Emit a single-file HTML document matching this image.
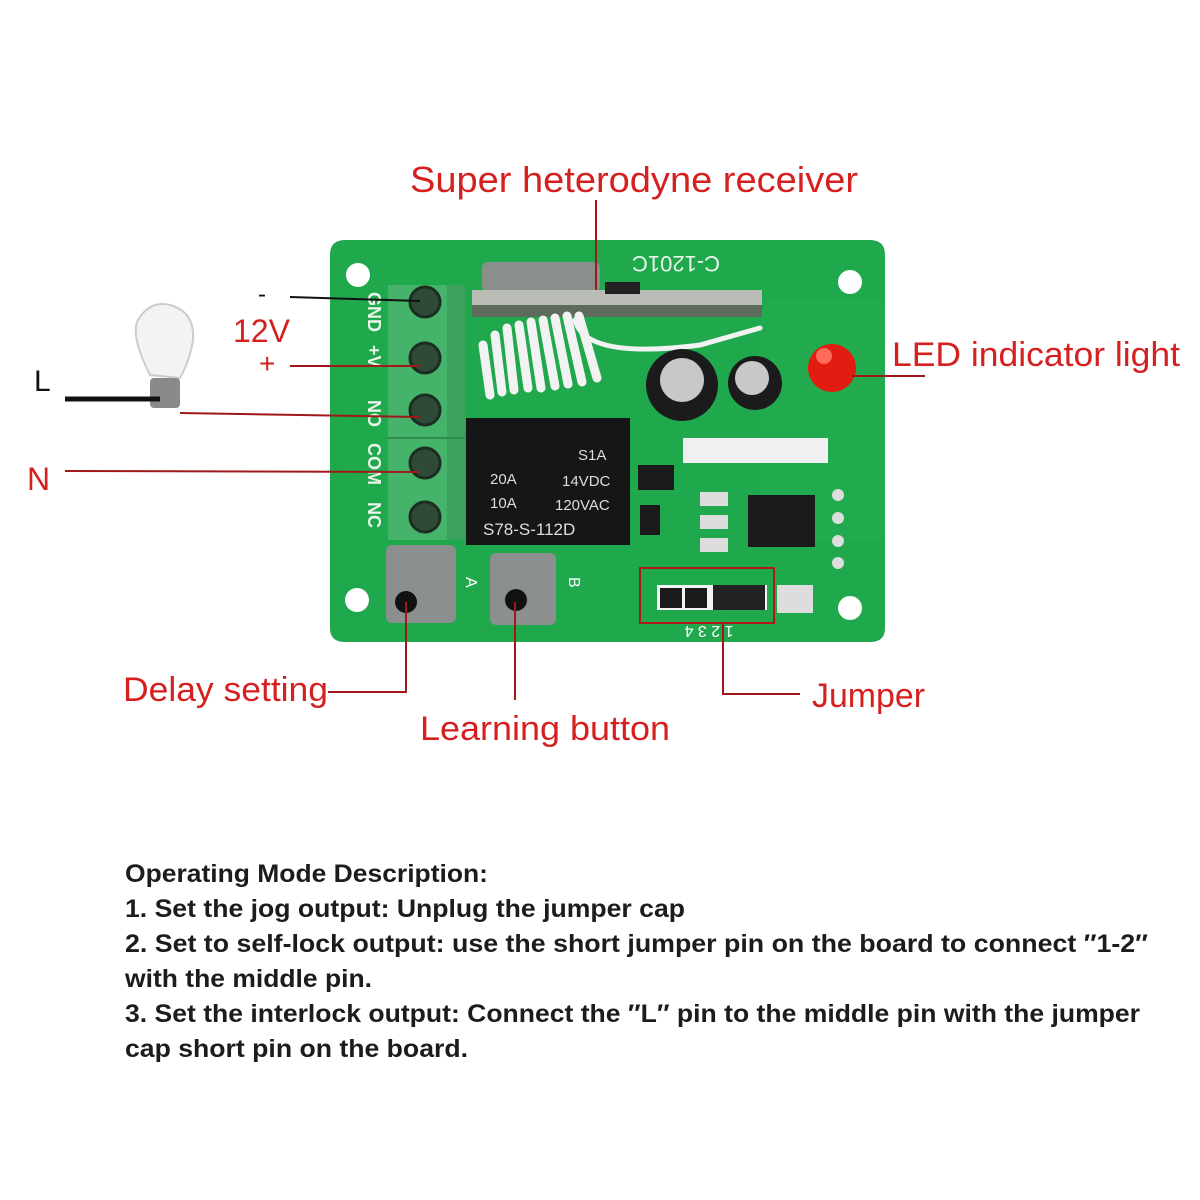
<!DOCTYPE html>
<html><head><meta charset="utf-8"><style>
html,body{margin:0;padding:0;background:#fff;}
svg{display:block;}
</style></head><body>
<svg width="1200" height="1200" viewBox="0 0 1200 1200" xmlns="http://www.w3.org/2000/svg" font-family="Liberation Sans, sans-serif">
<rect width="1200" height="1200" fill="#fff"/>
<!-- board -->
<path d="M345 240 H870 Q885 240 885 255 V628 Q885 642 870 642 H345 Q330 642 330 628 V255 Q330 240 345 240 Z" fill="#1fa84c"/>
<rect x="760" y="300" width="125" height="240" fill="#23ad50" opacity="0.6"/>
<!-- holes -->
<circle cx="358" cy="275" r="12" fill="#fff"/>
<circle cx="850" cy="282" r="12" fill="#fff"/>
<circle cx="357" cy="600" r="12" fill="#fff"/>
<circle cx="850" cy="608" r="12" fill="#fff"/>
<text x="676" y="272" font-size="22" fill="#e8f5e9" text-anchor="middle" transform="rotate(180 676 264)">C-1201C</text>
<!-- crystal + module -->
<rect x="482" y="262" width="118" height="30" rx="6" fill="#8a8f8c"/>
<rect x="472" y="290" width="290" height="26" fill="#b9bdb6"/>
<rect x="472" y="305" width="290" height="12" fill="#5d6b5a"/>
<rect x="605" y="282" width="35" height="12" fill="#222"/>
<!-- coil -->
<g stroke="#f2f2f2" stroke-width="9" fill="none" stroke-linecap="round">
<path d="M483 345 L490 395"/><path d="M495 335 L502 392"/><path d="M507 328 L514 390"/><path d="M519 325 L528 388"/><path d="M531 322 L541 388"/><path d="M543 320 L555 386"/><path d="M555 318 L568 384"/><path d="M567 316 L582 382"/><path d="M579 316 L597 378"/>
<path d="M575 320 Q585 360 700 345 L760 328" stroke-width="5"/>
</g>
<!-- terminal block -->
<rect x="388" y="285" width="77" height="255" fill="#45b36a"/>
<rect x="447" y="285" width="18" height="255" fill="#3aa25c"/>
<line x1="388" y1="438" x2="465" y2="438" stroke="#2e8b4f" stroke-width="2"/>
<g fill="#2f4a36" stroke="#1d2d22" stroke-width="3">
<circle cx="425" cy="302" r="15"/><circle cx="425" cy="358" r="15"/><circle cx="425" cy="410" r="15"/><circle cx="425" cy="463" r="15"/><circle cx="425" cy="517" r="15"/>
</g>
<g font-size="18" fill="#e8f5e9" font-weight="bold">
<text transform="translate(368 292) rotate(90)">GND</text>
<text transform="translate(368 345) rotate(90)">+V</text>
<text transform="translate(368 400) rotate(90)">NO</text>
<text transform="translate(368 443) rotate(90)">COM</text>
<text transform="translate(368 502) rotate(90)">NC</text>
</g>
<!-- relay -->
<rect x="466" y="418" width="164" height="127" fill="#141618"/>
<g fill="#ddd" font-size="15">
<text x="578" y="460">S1A</text><text x="490" y="484">20A</text><text x="562" y="486">14VDC</text>
<text x="490" y="508">10A</text><text x="555" y="510">120VAC</text>
<text x="483" y="535" font-size="17">S78-S-112D</text></g>
<!-- capacitors -->
<circle cx="682" cy="385" r="36" fill="#1b1b1b"/><circle cx="682" cy="380" r="22" fill="#c7c9c9"/>
<circle cx="755" cy="383" r="27" fill="#1b1b1b"/><circle cx="752" cy="378" r="17" fill="#c7c9c9"/>
<!-- LED -->
<circle cx="832" cy="368" r="24" fill="#e31c12"/><circle cx="824" cy="356" r="8" fill="#ff6b5a"/>
<!-- smd -->
<g fill="#1a1a1a">
<rect x="638" y="465" width="36" height="25"/>
<rect x="683" y="438" width="145" height="25" fill="#f0f0f0"/>
<rect x="748" y="495" width="67" height="52"/>
<rect x="640" y="505" width="20" height="30"/>
<rect x="700" y="492" width="28" height="14" fill="#ddd"/><rect x="700" y="515" width="28" height="14" fill="#ddd"/><rect x="700" y="538" width="28" height="14" fill="#ddd"/>
</g>
<g fill="#ddd"><circle cx="838" cy="495" r="6"/><circle cx="838" cy="518" r="6"/><circle cx="838" cy="541" r="6"/><circle cx="838" cy="563" r="6"/></g>
<!-- jumper -->
<rect x="657" y="585" width="110" height="25" fill="#f4f4f4"/>
<rect x="660" y="588" width="22" height="20" fill="#1a1a1a"/><rect x="685" y="588" width="22" height="20" fill="#1a1a1a"/><rect x="713" y="585" width="52" height="25" fill="#222"/>
<rect x="640" y="568" width="134" height="55" fill="none" stroke="#b01818" stroke-width="2"/>
<rect x="777" y="585" width="36" height="28" fill="#ddd"/>
<text x="709" y="638" font-size="16" fill="#fff" text-anchor="middle" transform="rotate(180 709 632)">1 2 3 4</text>
<!-- buttons -->
<rect x="386" y="545" width="70" height="78" rx="6" fill="#8b8f8d"/><circle cx="406" cy="602" r="11" fill="#111"/>
<rect x="490" y="553" width="66" height="72" rx="6" fill="#8b8f8d"/><circle cx="516" cy="600" r="11" fill="#111"/>
<text x="465" y="586" font-size="16" fill="#fff" transform="rotate(90 470 582)">A</text>
<text x="568" y="586" font-size="16" fill="#fff" transform="rotate(90 573 582)">B</text>
<!-- bulb -->
<path d="M150 375 Q130 335 138 320 Q150 300 170 305 Q195 312 193 340 Q190 360 180 378 Z" fill="#f3f3f3" stroke="#ccc" stroke-width="2"/>
<rect x="150" y="378" width="30" height="30" rx="4" fill="#8a8a8a"/>
<!-- connector lines -->
<g stroke-width="2" fill="none">
<path d="M290 297 L420 301" stroke="#111"/>
<path d="M290 366 L420 366" stroke="#a01818"/>
<path d="M180 413 L420 417" stroke="#a01818"/>
<path d="M65 471 L420 472" stroke="#a01818"/>
<path d="M65 399 L160 399" stroke="#111" stroke-width="5"/>
<path d="M596 200 L596 290" stroke="#a01818"/>
<path d="M852 376 L925 376" stroke="#a01818"/>
<path d="M328 692 L406 692 L406 602" stroke="#a01818"/>
<path d="M515 700 L515 602" stroke="#a01818"/>
<path d="M800 694 L723 694 L723 623" stroke="#a01818"/>
</g>
<!-- labels -->
<g fill="#d61f1f" font-size="36" lengthAdjust="spacingAndGlyphs">
<text x="410" y="192" textLength="448" lengthAdjust="spacingAndGlyphs">Super  heterodyne  receiver</text>
<text x="892" y="366" font-size="34" textLength="288" lengthAdjust="spacingAndGlyphs">LED indicator light</text>
<text x="233" y="342" font-size="32">12V</text>
<text x="259" y="373" font-size="28">+</text>
<text x="27" y="490" font-size="32">N</text>
<text x="123" y="701" font-size="34" textLength="205" lengthAdjust="spacingAndGlyphs">Delay setting</text>
<text x="420" y="740" font-size="34" textLength="250" lengthAdjust="spacingAndGlyphs">Learning button</text>
<text x="812" y="707" font-size="34" textLength="113" lengthAdjust="spacingAndGlyphs">Jumper</text>
</g>
<text x="258" y="302" font-size="24" fill="#111">-</text>
<text x="34" y="391" font-size="30" fill="#111">L</text>
<g fill="#1c1c1c" font-size="25" font-weight="bold">
<text x="125" y="882" textLength="363" lengthAdjust="spacingAndGlyphs">Operating Mode Description:</text>
<text x="125" y="917" textLength="560" lengthAdjust="spacingAndGlyphs">1. Set the jog output: Unplug the jumper cap</text>
<text x="125" y="952" textLength="1023" lengthAdjust="spacingAndGlyphs">2. Set to self-lock output: use the short jumper pin on the board to connect ″1-2″</text>
<text x="125" y="987" textLength="247" lengthAdjust="spacingAndGlyphs">with the middle pin.</text>
<text x="125" y="1022" textLength="1015" lengthAdjust="spacingAndGlyphs">3. Set the interlock output: Connect the ″L″ pin to the middle pin with the jumper</text>
<text x="125" y="1057" textLength="343" lengthAdjust="spacingAndGlyphs">cap short pin on the board.</text>
</g>
</svg>
</body></html>
